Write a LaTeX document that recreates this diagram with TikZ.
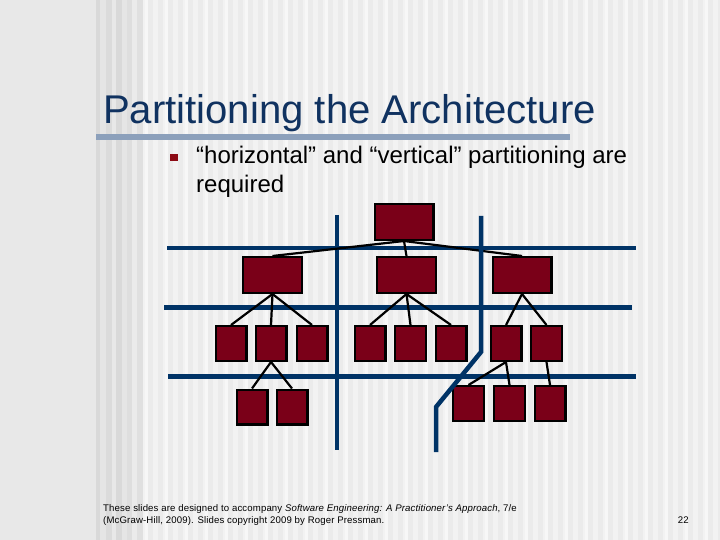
\documentclass[tikz,border=0pt]{standalone}
\usepackage{fontspec}
\setmainfont{Liberation Sans}
\newfontfamily\footfont[LetterSpace=1.5]{Liberation Sans}
\definecolor{maroonbox}{RGB}{122,0,24}
\definecolor{partblue}{RGB}{0,51,102}
\definecolor{titleblue}{RGB}{16,50,96}
\definecolor{titlebar}{RGB}{140,160,187}
\definecolor{bulletred}{RGB}{140,10,20}
\tikzset{
  modbox/.style={draw=black, line width=2.4pt, fill=maroonbox, inner sep=0pt},
  bigbox/.style={modbox, minimum width=58.6pt, minimum height=35.6pt},
  smallbox/.style={modbox, minimum width=30.6pt, minimum height=34.6pt},
  conn/.style={draw=black, line width=2.2pt},
  partline/.style={draw=partblue, line width=4.5pt},
  foottext/.style={inner sep=0pt, font=\footfont\fontsize{9.6}{11}\selectfont},
}
\begin{document}
\begin{tikzpicture}[x=1pt,y=-1pt]
\useasboundingbox (0,0) rectangle (720,540);
% background
\fill[black!9] (0,0) rectangle (96,540);
\fill[black!5] (96,0) rectangle (720,540);
\foreach \x/\w/\c in {96/4/15, 100/6/10, 106/6/14, 112/4/9, 116/6/15, 122/5/10, 127/5/13, 132/5/8, 137/6/12}
  \fill[black!\c] (\x,0) rectangle ++(\w,540);
\foreach \x in {148,158,...,718}
  \fill[black!8] (\x,0) rectangle ++(5,540);
\foreach \x in {145,165,...,705}
  \fill[black!3] (\x,0) rectangle ++(3,540);
% title
\node[anchor=base west, inner sep=0pt, text=titleblue, font=\fontsize{40.1}{48}\selectfont] (title) at (103,124) {Partitioning the Architecture};
\fill[titlebar] (96,134) rectangle (570,140);
% bullet
\fill[bulletred] (170,154) rectangle (177.5,161.5);
\node[anchor=base west, inner sep=0pt, font=\fontsize{24}{29}\selectfont] (bul1) at (196,164) {“horizontal” and “vertical” partitioning are};
\node[anchor=base west, inner sep=0pt, font=\fontsize{24}{29}\selectfont] (bul2) at (196,193) {required};
% partition lines (under)
\draw[partline] (167,248) -- (636,248);
\draw[partline] (164,307.5) -- (632,307.5);
\draw[partline] (168,376.5) -- (636,376.5);
\draw[partline] (337,215) -- (337,450);
% boxes
\node[bigbox] (top) at (404,222) {};
\node[bigbox] (A) at (272.5,275) {};
\node[bigbox] (B) at (406.5,275) {};
\node[bigbox] (C) at (522,275) {};
\node[smallbox] (A1) at (231,343.5) {};
\node[smallbox] (A2) at (271,343.5) {};
\node[smallbox] (A3) at (312,343.5) {};
\node[smallbox] (B1) at (370,343.5) {};
\node[smallbox] (B2) at (410.5,343.5) {};
\node[smallbox] (B3) at (451,343.5) {};
\node[smallbox] (C1) at (506,343.5) {};
\node[smallbox] (C2) at (546.5,343.5) {};
\node[smallbox] (A2a) at (252,407) {};
\node[smallbox] (A2b) at (292,407) {};
\node[smallbox] (C1a) at (468.5,403.5) {};
\node[smallbox] (C1b) at (509.5,403.5) {};
\node[smallbox] (C1c) at (550,403.5) {};
% connectors
\foreach \t in {A,B,C} \draw[conn] (top.south) -- (\t.north);
\foreach \t in {A1,A2,A3} \draw[conn] (A.south) -- (\t.north);
\foreach \t in {B1,B2,B3} \draw[conn] (B.south) -- (\t.north);
\foreach \t in {C1,C2} \draw[conn] (C.south) -- (\t.north);
\foreach \t in {A2a,A2b} \draw[conn] (A2.south) -- (\t.north);
\foreach \t in {C1a,C1b} \draw[conn] (C1.south) -- (\t.north);
\draw[conn] (C2.south) -- (C1c.north);
% bent vertical partition (over)
\draw[partline] (481,216) -- (481,352) -- (436,407) -- (436,452);
% footer
\node[anchor=base west, foottext] (foot1) at (103,511) {These slides are designed to accompany \textit{Software Engineering: A Practitioner’s Approach}, 7/e};
\node[anchor=base west, foottext] (foot2) at (103,523) {(McGraw-Hill, 2009). Slides copyright 2009 by Roger Pressman.};
\node[anchor=base east, foottext] (pagenum) at (689,523) {22};
\end{tikzpicture}
\end{document}
